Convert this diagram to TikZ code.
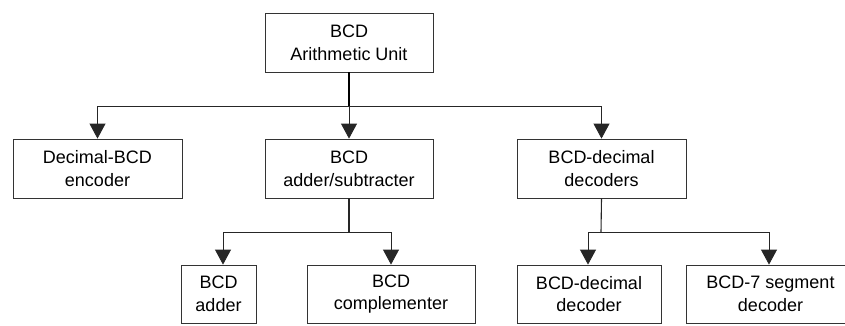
\documentclass[tikz,border=0pt]{standalone}
\usepackage{fontspec}
\setmainfont{Liberation Sans}
\usetikzlibrary{arrows.meta}
\begin{document}
\begin{tikzpicture}[x=1pt,y=-1pt,
  block/.style={draw=black!80,line width=0.8pt,fill=white,align=center,
    inner sep=0pt,font=\fontsize{18}{22.7}\selectfont},
  link/.style={draw=black!85,line width=0.8pt},
  arr/.style={link,-{Triangle[width=16pt,length=15pt]}}]
\useasboundingbox (0,0) rectangle (845,325);
\clip (0,0) rectangle (845,325);
% blocks
\node[block,minimum width=168pt,minimum height=59pt] (top) at (349,42.5) {BCD\\Arithmetic Unit};
\node[block,minimum width=169pt,minimum height=59pt] (enc) at (97.5,168.5) {Decimal-BCD\\encoder};
\node[block,minimum width=168pt,minimum height=59pt] (addsub) at (349,168.5) {BCD\\adder/subtracter};
\node[block,minimum width=169pt,minimum height=59pt] (dec) at (601.5,168.5) {BCD-decimal\\decoders};
\node[block,minimum width=75pt,minimum height=58pt] (adder) at (218.5,294) {BCD\\adder};
\node[block,minimum width=168pt,minimum height=58pt] (compl) at (391,294) {BCD\\complementer};
\node[block,minimum width=144pt,minimum height=58pt] (ddec) at (589,294) {BCD-decimal\\decoder};
\node[block,minimum width=169pt,minimum height=58pt] (seg) at (770.5,294) {BCD-7 segment\\decoder};
% junction points
\coordinate (j1) at (349,106);
\coordinate (j2) at (349,232);
\coordinate (j3) at (601,232);
% connectors
\draw[link,line width=1.6pt,draw=black] (top.south) -- (j1);
\draw[arr] (j1) -| (enc.north);
\draw[arr] (j1) -- (addsub.north);
\draw[arr] (j1) -| (dec.north);
\draw[link,line width=1.1pt] (addsub.south) -- (j2);
\draw[arr] (j2) -| ([xshift=4.5pt]adder.north);
\draw[arr] (j2) -| (compl.north);
\draw[link,line width=1.1pt] (dec.south) -- (j3);
\draw[arr] (j3) -| ([xshift=-1pt]ddec.north);
\draw[arr] (j3) -| ([xshift=-1.5pt]seg.north);
\end{tikzpicture}
\end{document}
